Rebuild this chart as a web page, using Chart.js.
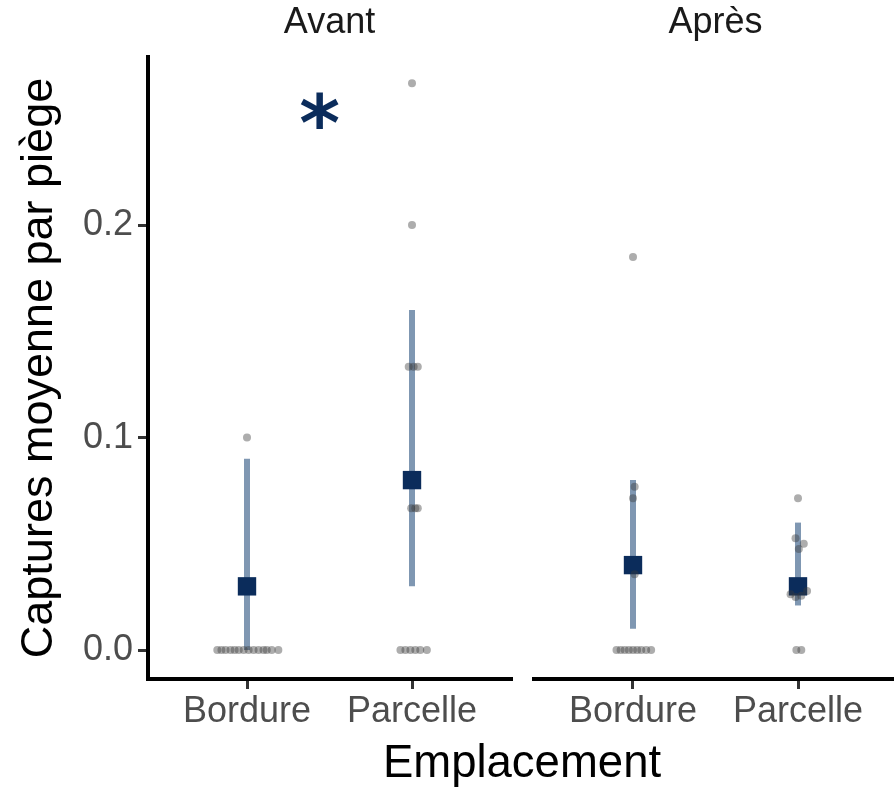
<!DOCTYPE html>
<html>
<head>
<meta charset="utf-8">
<script src="https://cdn.jsdelivr.net/npm/chart.js@4.4.1/dist/chart.umd.min.js"></script>
<style>
  html, body { margin: 0; background: #fff; overflow: hidden; }
  #wrap { position: relative; width: 894px; height: 791px; overflow: hidden; }
  canvas { position: absolute; top: 0; }
  #left { left: 0; }
  #right { left: 520px; }
  #xtitle {
    position: absolute; left: 151px; width: 742px; top: 739px;
    text-align: center; color: #000;
    font: 45.5px/45px "Liberation Sans", Arial, sans-serif;
  }
</style>
</head>
<body>
<div id="wrap">
  <canvas id="left" width="520" height="791"></canvas>
  <canvas id="right" width="381" height="791"></canvas>
  <div id="xtitle">Emplacement</div>
</div>
<script>
// ---- data ----
const categories = ['Bordure', 'Parcelle'];
const yTicks = [0, 0.1, 0.2];

// mean captures (squares) and interval (bars), per facet
const meanAvant = [0.03, 0.08];
const lowAvant = [0, 0.03];
const highAvant = [0.09, 0.16];
const meanApres = [0.04, 0.03];
const lowApres = [0.01, 0.021];
const highApres = [0.08, 0.06];

// raw traps (grey dots): values and horizontal jitter (category units)
const avantBordureY = [0, 0, 0, 0, 0, 0, 0, 0, 0, 0, 0, 0, 0, 0, 0.1];
const avantBordureJit = [-0.18, -0.155, -0.13, -0.1, -0.075, -0.05, -0.02, 0.01, 0.04, 0.07, 0.1, 0.12, 0.15, 0.19, 0];
const avantParcelleY = [0, 0, 0, 0, 0, 0, 0.0667, 0.0667, 0.0667, 0.1333, 0.1333, 0.1333, 0.2, 0.2667];
const avantParcelleJit = [-0.07, -0.04, -0.01, 0.02, 0.05, 0.09, -0.005, 0.02, 0.035, -0.02, 0.01, 0.035, 0, 0];
const apresBordureY = [0, 0, 0, 0, 0, 0, 0, 0, 0, 0.0714, 0.0769, 0.0357, 0.185];
const apresBordureJit = [-0.1, -0.075, -0.05, -0.025, 0, 0.025, 0.05, 0.08, 0.11, 0, 0.01, 0.01, 0];
const apresParcelleY = [0, 0, 0.0714, 0.0526, 0.05, 0.0476, 0.0263, 0.025, 0.0256, 0.0278];
const apresParcelleJit = [-0.01, 0.02, 0, -0.015, 0.035, 0.005, -0.045, -0.015, 0.02, 0.055];

// significance mark (data units, left facet)
const starX = 1.44, starY = 0.254;

// ---- style ----
const FONT = '"Liberation Sans", Arial, sans-serif';
const navy = '#0B2C5B';
const barBlue = '#7F97B2';
const dotGrey = 'rgba(60,60,60,0.42)';
const tickGrey = '#4D4D4D';
const yMin = -0.0136, yMax = 0.2791;

function rawPoints(groups) {
  const pts = [];
  groups.forEach((g, i) => g.y.forEach((v, k) => pts.push({ x: i + 1 + g.jit[k], y: v })));
  return pts;
}

function makeChart(id, facet) {
  const datasets = [
    { type: 'scatter', data: rawPoints(facet.groups), backgroundColor: dotGrey,
      borderWidth: 0, pointRadius: 4, order: 0 },
    { type: 'scatter', data: facet.mean.map((m, i) => ({ x: i + 1, y: m })),
      pointStyle: 'rect', pointRadius: 13, backgroundColor: navy, borderWidth: 0, order: 1 },
  ];
  facet.low.forEach((lo, i) => datasets.push({
    type: 'line', data: [{ x: i + 1, y: lo }, { x: i + 1, y: facet.high[i] }],
    borderColor: barBlue, borderWidth: 6, borderCapStyle: 'butt', pointRadius: 0, order: 2,
  }));

  return new Chart(document.getElementById(id), {
    type: 'scatter',
    data: { datasets },
    options: {
      responsive: false,
      animation: false,
      devicePixelRatio: 1,
      // fixed panel geometry: no automatic padding for point overflow
      layout: { autoPadding: false, padding: facet.padding },
      plugins: {
        legend: { display: false },
        tooltip: { enabled: false },
        title: {
          display: true, text: facet.name, fullSize: false, color: '#1A1A1A',
          font: { family: FONT, size: 36, weight: 'normal' },
          padding: { top: 1, bottom: 12.8 },
        },
      },
      scales: {
        x: {
          type: 'linear', min: 0.4, max: 2.6,
          afterBuildTicks: s => { s.ticks = categories.map((c, i) => ({ value: i + 1 })); },
          afterFit: s => { s.height = 112; },
          ticks: {
            callback: v => categories[Math.round(v) - 1],
            color: tickGrey, font: { family: FONT, size: 36 }, padding: 1,
            maxRotation: 0, autoSkip: false,
          },
          grid: { drawOnChartArea: false, tickLength: 10, color: '#333', lineWidth: 3 },
          border: { color: '#000', width: 4 },
        },
        y: {
          display: facet.showY,
          min: yMin, max: yMax,
          afterBuildTicks: s => { s.ticks = yTicks.map(v => ({ value: v })); },
          afterFit: s => { if (facet.showY) s.width = 148; },
          ticks: {
            callback: v => v.toFixed(1),
            color: tickGrey, font: { family: FONT, size: 36 }, padding: 5,
          },
          grid: { drawOnChartArea: false, tickLength: 10, color: '#333', lineWidth: 3 },
          border: { color: '#000', width: 4 },
          title: {
            display: true, text: 'Captures moyenne par piège', color: '#000',
            font: { family: FONT, size: 45 }, padding: { top: 12.5, bottom: 0 },
          },
        },
      },
    },
    plugins: facet.star ? [{
      id: 'star',
      afterDatasetsDraw(chart) {
        const ctx = chart.ctx;
        const x = chart.scales.x.getPixelForValue(starX);
        const y = chart.scales.y.getPixelForValue(starY);
        ctx.save();
        ctx.font = 'bold 78px "DejaVu Sans", sans-serif';
        ctx.fillStyle = navy;
        ctx.textAlign = 'center';
        ctx.textBaseline = 'alphabetic';
        const m = ctx.measureText('*');
        ctx.fillText('*', x, y + (m.actualBoundingBoxAscent - m.actualBoundingBoxDescent) / 2);
        ctx.restore();
      },
    }] : [],
  });
}

makeChart('left', {
  name: 'Avant', showY: true, star: true,
  padding: { left: 0, right: 9, top: 0, bottom: 0 },
  mean: meanAvant, low: lowAvant, high: highAvant,
  groups: [{ y: avantBordureY, jit: avantBordureJit }, { y: avantParcelleY, jit: avantParcelleJit }],
});
makeChart('right', {
  name: 'Après', showY: false, star: false,
  padding: { left: 14, right: 4, top: 0, bottom: 0 },
  mean: meanApres, low: lowApres, high: highApres,
  groups: [{ y: apresBordureY, jit: apresBordureJit }, { y: apresParcelleY, jit: apresParcelleJit }],
});
</script>
</body>
</html>
